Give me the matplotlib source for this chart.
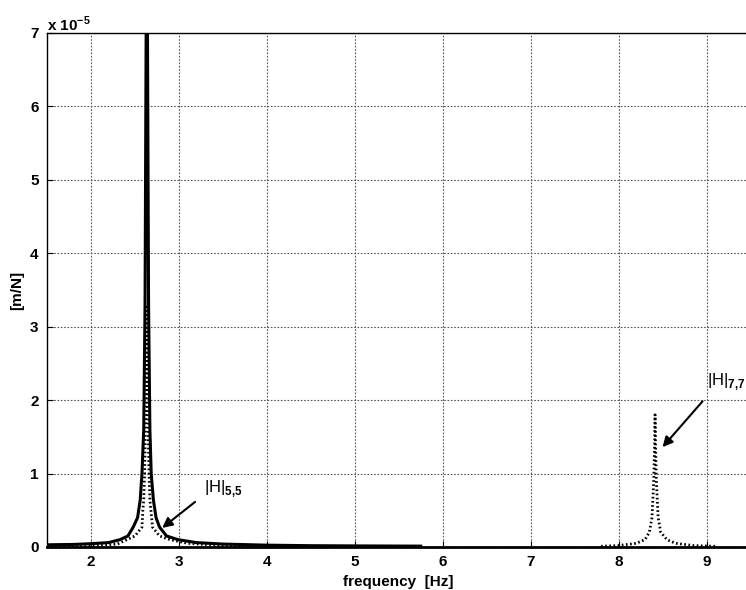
import matplotlib
matplotlib.use("Agg")
import matplotlib.pyplot as plt
import numpy as np

plt.rcParams['font.family'] = ['Liberation Sans', 'DejaVu Sans']
plt.rcParams['mathtext.fontset'] = 'custom'
plt.rcParams['mathtext.rm'] = 'Liberation Sans'
plt.rcParams['mathtext.bf'] = 'Liberation Sans:bold'

# values in units of 1e-5 m/N
freq_solid = [1.5, 1.8, 2.0, 2.2, 2.33, 2.42, 2.48, 2.53, 2.56, 2.58, 2.60, 2.615, 2.629, 2.635,
              2.641, 2.655, 2.67, 2.685, 2.71, 2.74, 2.78, 2.86, 2.99, 3.2, 3.5, 4.0, 4.5, 5.0, 5.75]
h55 = [0.03, 0.035, 0.045, 0.06, 0.1, 0.15, 0.27, 0.4, 0.64, 1.0, 1.6, 3.3, 7.5, 9.0,
       7.5, 3.3, 1.6, 1.0, 0.64, 0.4, 0.27, 0.15, 0.1, 0.06, 0.04, 0.025, 0.018, 0.015, 0.012]

freq_dot1 = [1.5, 2.0, 2.3, 2.41, 2.5, 2.58, 2.59, 2.60, 2.61, 2.625, 2.635, 2.645, 2.66,
             2.67, 2.69, 2.70, 2.78, 2.9, 3.1, 3.5, 3.9]
h77_a = [0.01, 0.015, 0.04, 0.1, 0.15, 0.27, 0.5, 0.64, 1.0, 2.0, 3.3, 2.0, 1.0,
         0.64, 0.4, 0.27, 0.15, 0.1, 0.05, 0.02, 0.01]

freq_dot2 = [7.8, 8.0, 8.2, 8.3, 8.35, 8.38, 8.40, 8.41, 8.415, 8.42, 8.43, 8.45, 8.48,
             8.55, 8.65, 8.85, 9.1]
h77_b = [0.01, 0.02, 0.05, 0.1, 0.2, 0.4, 0.9, 1.4, 1.8, 1.4, 0.9, 0.4, 0.2,
         0.1, 0.05, 0.02, 0.01]

xticks = [2, 3, 4, 5, 6, 7, 8, 9]
yticks = [0, 1, 2, 3, 4, 5, 6, 7]

fig = plt.figure(figsize=(7.46, 5.9), dpi=100)
ax = fig.add_axes([47/746, 43/590, 1.006 - 47/746, (547-33)/590])

ax.plot(freq_solid, h55, color='black', lw=2.2, solid_joinstyle='round')
ax.plot(freq_dot1, h77_a, color='black', lw=2.0, linestyle=(0, (0.6, 0.9)))
ax.plot(freq_dot2, h77_b, color='black', lw=2.0, linestyle=(0, (0.6, 0.9)))

ax.set_xlim(1.5, 9.5)
ax.set_ylim(0, 7)
ax.set_xticks(xticks)
ax.set_yticks(yticks)
ax.tick_params(direction='in', length=4, width=0.8, labelsize=11, pad=6)
for lab in ax.get_xticklabels() + ax.get_yticklabels():
    lab.set_fontweight('bold')
ax.grid(True, color='#555555', linestyle=(0, (1.5, 1.5)), lw=0.8)
ax.set_axisbelow(True)
for s in ax.spines.values():
    s.set_linewidth(1.0)
ax.spines['bottom'].set_linewidth(2.0)

ax.set_xlabel('frequency  [Hz]', fontsize=11, fontweight='bold', labelpad=4)
ax.set_ylabel('[m/N]', fontsize=11, fontweight='bold', labelpad=4)

fig.text(47/746, 1 - 24/590, 'x 10$^{\\mathbf{-5}}$', fontsize=11, fontweight='bold',
         ha='left', va='center')

ax.annotate('|H|$_{\\mathbf{5{,}5}}$', xy=(2.81, 0.26), xytext=(3.29, 0.80),
            fontsize=12, ha='left', va='center',
            arrowprops=dict(arrowstyle='-|>', color='black', lw=1.5,
                            mutation_scale=15, shrinkA=6, shrinkB=0,
                            relpos=(0, 0.2)))
ax.annotate('|H|$_{\\mathbf{7{,}7}}$', xy=(8.50, 1.36), xytext=(9.01, 2.25),
            fontsize=12, ha='left', va='center',
            arrowprops=dict(arrowstyle='-|>', color='black', lw=1.5,
                            mutation_scale=15, shrinkA=6, shrinkB=0,
                            relpos=(0.08, 0.0)))

fig.savefig('out.png', dpi=100)
